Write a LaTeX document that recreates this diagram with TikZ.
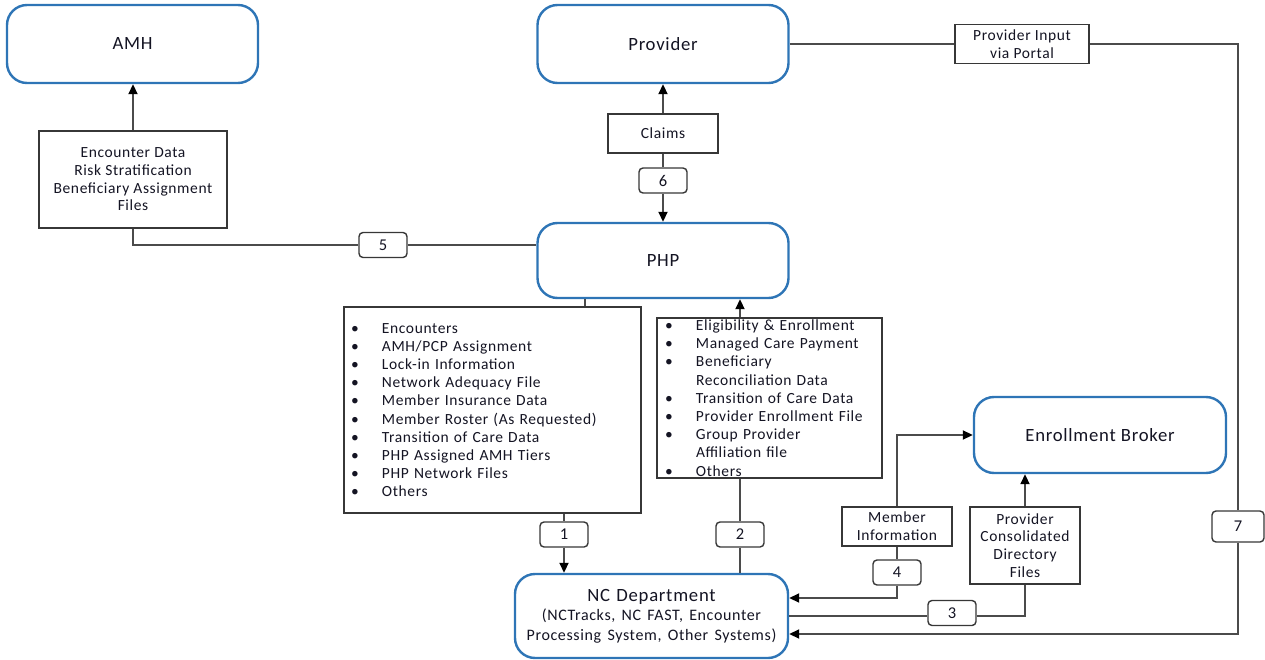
\documentclass[tikz,border=0pt]{standalone}
\usepackage{fontspec}
\setmainfont{Carlito}[LetterSpace=4.0]
\usetikzlibrary{positioning, calc, arrows.meta}

\definecolor{entblue}{RGB}{46,117,182}
\definecolor{flowgray}{RGB}{75,75,75}
\definecolor{boxgray}{RGB}{55,55,55}
\definecolor{inkdark}{RGB}{20,20,35}

\newcommand{\lbul}{\makebox[31pt][l]{\textbullet}}
\newcommand{\lcont}{\hspace*{31pt}}

\tikzset{
    entity/.style={draw=entblue, line width=2.4pt, rounded corners=20pt, fill=white, text=inkdark,
        minimum width=251pt, minimum height=78pt, font=\fontsize{18.7}{22}\selectfont},
    databox/.style={draw=boxgray, line width=1.4pt, fill=white, text=inkdark, align=center,
        inner sep=0pt, font=\fontsize{15.5}{17.7}\selectfont},
    listbox/.style={databox, align=left, inner xsep=7pt, inner ysep=0pt, font=\fontsize{15.5}{18.2}\selectfont},
    numbox/.style={draw=boxgray, line width=1.4pt, rounded corners=4pt, fill=white, text=inkdark,
        minimum width=48pt, minimum height=25pt, inner sep=0pt, font=\fontsize{16.5}{18}\selectfont},
    flow/.style={draw=flowgray, line width=1.8pt},
    toarr/.style={-{Triangle[length=10pt, width=9pt, color=black]}}
}

\begin{document}
\begin{tikzpicture}[x=1pt, y=-1pt]
    \useasboundingbox (0,0) rectangle (1265,660);

    % the five parties
    \node[entity] (amh) at (132.5,44) {AMH};
    \node[entity] (prov) at (663,44) {Provider};
    \node[entity, minimum height=75pt] (php) at (663,260.5) {PHP};
    \node[entity, minimum width=252pt, minimum height=76pt] (eb) at (1100,435) {Enrollment Broker};
    \node[entity, minimum width=273pt, minimum height=84pt, text width=262pt, align=center] (ncd) at (651.5,616)
        {NC Department\par{\fontsize{16}{19.5}\selectfont (NCTracks, NC FAST, Encounter\\Processing System, Other Systems)\par}};

    % data exchanged
    \node[databox, minimum width=188pt, minimum height=97pt] (encd) at (133,179.5)
        {Encounter Data\\Risk Stratification\\Beneficiary Assignment\\Files};
    \node[databox, minimum width=110pt, minimum height=39pt] (claims) at (663,133.5) {Claims};
    \node[databox, minimum width=134pt, minimum height=39pt] (portal) at (1022,44) {Provider Input\\via Portal};
    \node[databox, minimum width=110pt, minimum height=39pt] (meminf) at (897,526.5) {Member\\Information};
    \node[databox, minimum width=110pt, minimum height=77pt] (pcdf) at (1025,545.5)
        {Provider\\Consolidated\\Directory\\Files};

    \node[listbox, text width=283pt, minimum height=206pt] (lst1) at (492.5,410)
        {\lbul Encounters\\
         \lbul AMH/PCP Assignment\\
         \lbul Lock-in Information\\
         \lbul Network Adequacy File\\
         \lbul Member Insurance Data\\
         \lbul Member Roster (As Requested)\\
         \lbul Transition of Care Data\\
         \lbul PHP Assigned AMH Tiers\\
         \lbul PHP Network Files\\
         \lbul Others};
    \node[listbox, text width=209pt, inner xsep=8pt, minimum height=160pt] (lst2) at (769.5,398)
        {\lbul Eligibility \& Enrollment\\
         \lbul Managed Care Payment\\
         \lbul Beneficiary\\
         \lcont Reconciliation Data\\
         \lbul Transition of Care Data\\
         \lbul Provider Enrollment File\\
         \lbul Group Provider\\
         \lcont Affiliation file\\
         \lbul Others};

    % step numbers
    \node[numbox] (n5) at (383,245) {5};
    \node[numbox] (n6) at (663,180.5) {6};
    \node[numbox] (n1) at (564,534.5) {1};
    \node[numbox] (n2) at (740,534.5) {2};
    \node[numbox] (n4) at (897,572.5) {4};
    \node[numbox] (n3) at (952,613) {3};
    \node[numbox, minimum width=52pt, minimum height=31pt] (n7) at (1238,526.5) {7};

    % PHP -> AMH
    \draw[flow, toarr] (encd.north) -- (encd.north |- amh.south);
    \draw[flow] (encd.south) |- (n5.west);
    \draw[flow] (n5.east) -- (n5.east -| php.west);

    % PHP <-> Provider
    \draw[flow, toarr] (claims.north) -- (prov.south);
    \draw[flow] (claims.south) -- (n6.north);
    \draw[flow, toarr] (n6.south) -- (php.north);

    % Provider -> NC Department
    \draw[flow] (prov.east) -- (portal.west);
    \draw[flow] (portal.east) -| (n7.north);
    \draw[flow, toarr] (n7.south) |- ($(ncd.east)+(0,18)$);

    % PHP -> NC Department
    \draw[flow] ([xshift=-78pt]php.south) -- ([xshift=-78pt]php.south |- lst1.north);
    \draw[flow] (n1.north |- lst1.south) -- (n1.north);
    \draw[flow, toarr] (n1.south) -- (n1.south |- ncd.north);

    % NC Department -> PHP
    \draw[flow, toarr] (n2.north |- lst2.north) -- (n2.north |- php.south);
    \draw[flow] (n2.north |- lst2.south) -- (n2.north);
    \draw[flow] (n2.south) -- (n2.south |- ncd.north);

    % Enrollment Broker
    \draw[flow, toarr] (meminf.north) |- (eb.west);
    \draw[flow] (meminf.south) -- (n4.north);
    \draw[flow, toarr] (n4.south) |- ($(ncd.east)+(0,-18)$);
    \draw[flow] (ncd.east) -- (ncd.east -| n3.west);
    \draw[flow] (ncd.east -| n3.east) -| (pcdf.south);
    \draw[flow, toarr] (pcdf.north) -- (pcdf.north |- eb.south);
\end{tikzpicture}
\end{document}
